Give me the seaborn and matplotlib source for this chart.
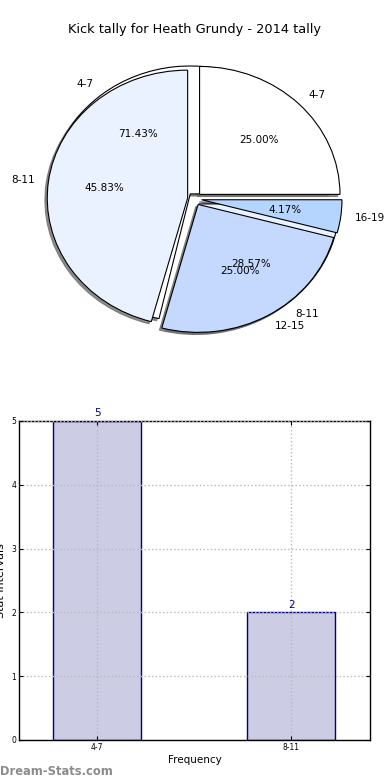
import matplotlib
matplotlib.use("Agg")
import matplotlib.pyplot as plt
import seaborn as sns
import pandas as pd

# ---- data ----
title = "Kick tally for Heath Grundy - 2014 tally"
pie_all_labels = ["4-7", "8-11", "12-15", "16-19"]
pie_all_values = [25.00, 45.83, 25.00, 4.17]
pie_sub_labels = ["4-7", "8-11"]
pie_sub_values = [71.43, 28.57]
bar_categories = ["4-7", "8-11"]
bar_values = [5, 2]

sns.set_style("white")
plt.rcParams["font.family"] = ["DejaVu Sans"]
plt.rcParams.update({"text.color": "black", "axes.labelcolor": "black",
                     "xtick.color": "black", "ytick.color": "black"})

fig = plt.figure(figsize=(3.9, 7.8), dpi=100)

# ---- pie ----
ax1 = fig.add_axes([0.049, 0.540, 0.90, 0.410])
pie_colors = ["#FFFFFF", "#EBF2FF", "#C5D9FF", "#B5D5FF"]
shadow_style = {"ox": -0.012, "oy": -0.012, "facecolor": "#6E6E6E",
                "edgecolor": "#6E6E6E", "alpha": 0.8}
ax1.pie(pie_sub_values, labels=pie_sub_labels, colors=pie_colors[:2],
        explode=[0.05] * len(pie_sub_values), autopct="%.2f%%",
        shadow=shadow_style, startangle=0,
        wedgeprops=dict(edgecolor="black", linewidth=0.8),
        textprops=dict(fontsize=7.5), frame=False)
ax1.pie(pie_all_values, labels=pie_all_labels, colors=pie_colors,
        explode=[0.05] * len(pie_all_values), autopct="%.2f%%",
        shadow=shadow_style, startangle=0,
        wedgeprops=dict(edgecolor="black", linewidth=0.8),
        textprops=dict(fontsize=7.5), frame=False)
ax1.set_aspect("auto")
ax1.set_xlim(-1.25, 1.25)
ax1.set_ylim(-1.25, 1.25)
ax1.set_title(title, fontsize=9.3, pad=4)

# ---- bars ----
ax2 = fig.add_axes([0.049, 0.0513, 0.90, 0.409])
df = pd.DataFrame({"cat": bar_categories, "val": bar_values})
sns.barplot(data=df, x="cat", y="val", width=0.45, color="#CCCCE5",
            saturation=1, edgecolor="#000080", linewidth=1, ax=ax2)
ax2.set_xlim(-0.402, 1.407)
ax2.set_ylim(0, 5)
ax2.set_yticks(range(0, 6))
ax2.set_axisbelow(False)
ax2.grid(True, linestyle=":", color="#B8B8B8", linewidth=1)
for s in ax2.spines.values():
    s.set_color("black")
    s.set_linewidth(1)
ax2.tick_params(direction="in", labelsize=5.5, top=True, right=True,
                bottom=True, left=True, length=3, pad=2)
ax2.set_xlabel("Frequency", fontsize=7.5, labelpad=2)
ax2.set_ylabel("Stat Intervals", fontsize=8)
ax2.yaxis.set_label_coords(-0.036, 0.5)
for i, v in enumerate(bar_values):
    ax2.text(i, v + 0.04, str(v), ha="center", va="bottom",
             color="#000080", fontsize=7.5)

fig.text(0.0, 0.003, "Dream-Stats.com", color="#8C8C8C", fontsize=8.3,
         fontweight="semibold", ha="left", va="bottom")

fig.savefig("out.png", dpi=100)
